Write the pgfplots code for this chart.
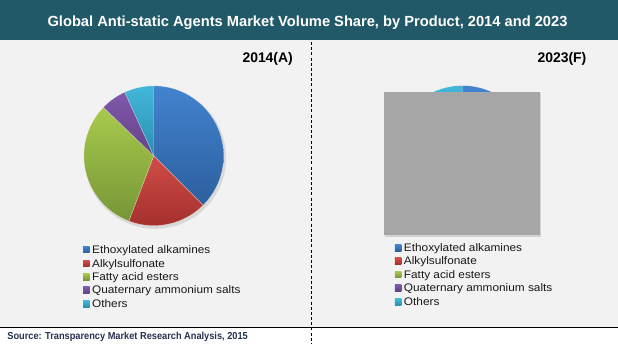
\documentclass[border=0pt]{standalone}
\usepackage{pgfplots}
\pgfplotsset{compat=1.18}
\usepackage{fontspec}
\setmainfont{Liberation Sans}
\usepackage{graphicx}
\definecolor{titlebar}{HTML}{215968}
\definecolor{bggray}{HTML}{F2F2F2}
\definecolor{coverg}{HTML}{A6A6A6}
\definecolor{srccol}{HTML}{263250}
\definecolor{blueT}{HTML}{4383CF}
\definecolor{blueB}{HTML}{2C5F9E}
\definecolor{redT}{HTML}{D04D47}
\definecolor{redB}{HTML}{A22E2B}
\definecolor{greenT}{HTML}{A8CA4D}
\definecolor{greenB}{HTML}{779536}
\definecolor{purpT}{HTML}{8159AB}
\definecolor{purpB}{HTML}{634286}
\definecolor{cyanT}{HTML}{42B7DA}
\definecolor{cyanB}{HTML}{2A8FAE}

% pie data: share (%) / top colour / bottom colour
\def\pieA{37.5/blueT/blueB, 18.3/redT/redB, 31.4/greenT/greenB, 6.0/purpT/purpB, 6.8/cyanT/cyanB}
\def\pieB{37.0/blueT/blueB, 18.5/redT/redB, 31.0/greenT/greenB, 6.0/purpT/purpB, 7.5/cyanT/cyanB}

\newcommand\drawpie[3]{% cx, cy, data macro
  \gdef\pieang{90}%
  \foreach \v/\ct/\cb in #3 {%
    \pgfmathsetmacro\angend{\pieang-3.6*\v}%
    \edef\temp{\noexpand\shade[top color=\ct, bottom color=\cb, draw=white, draw opacity=0.45, line width=0.4bp]
      (axis cs:#1,#2) -- ++(\pieang:70bp) arc[start angle=\pieang, end angle=\angend, radius=70bp] -- cycle;}%
    \temp
    \xdef\pieang{\angend}%
  }%
}
\newcommand\legentry[5]{% x marker centre, baseline y, topcol, botcol, text
  \shade[top color=#3, bottom color=#4] (axis cs:#1-3.2,#2+0.3) rectangle (axis cs:#1+3.2,#2+6.8);
  \node[anchor=base west, inner sep=0pt, text=black!90] at (axis cs:#1+5.6,#2) {\scalebox{1.08}[1]{\fontsize{11}{13}\selectfont #5}};
}

\begin{document}
\begin{tikzpicture}
\begin{axis}[width=618bp, height=350bp, scale only axis, hide axis,
  xmin=0, xmax=618, ymin=0, ymax=350, clip=false]
% backgrounds
\fill[white] (axis cs:0,0) rectangle (axis cs:618,350);
\fill[bggray] (axis cs:0,22.3) rectangle (axis cs:618,310);
\fill[titlebar] (axis cs:0,310) rectangle (axis cs:618,350);
\draw[black, line width=1bp] (axis cs:0,22.3) -- (axis cs:618,22.3);
\draw[black, line width=1bp, dash pattern=on 3bp off 2.2bp] (axis cs:311.7,308) -- (axis cs:311.7,5);

% title
\node[anchor=base, inner sep=0pt, text=white, font=\fontsize{14.75}{16}\selectfont\bfseries] at (axis cs:307.5,323.3)
  {Global Anti-static Agents Market Volume Share, by Product, 2014 and 2023};
\node[anchor=base east, inner sep=0pt, font=\fontsize{14}{16}\selectfont\bfseries] at (axis cs:293,287.7) {2014(A)};
\node[anchor=base east, inner sep=0pt, font=\fontsize{14}{16}\selectfont\bfseries] at (axis cs:587,287.7) {2023(F)};

% pie shadows
\fill[black, opacity=0.10] (axis cs:155.0,191.8) circle[radius=71bp];
\fill[black, opacity=0.10] (axis cs:464.2,192.1) circle[radius=71bp];
% pies
\drawpie{153.5}{194.0}{\pieA}
\drawpie{462.7}{194.3}{\pieB}

% grey cover on the right pie
\fill[black, opacity=0.12] (axis cs:385.5,112.8) rectangle (axis cs:541.5,256.8);
\fill[coverg] (axis cs:384,114.3) rectangle (axis cs:540,258.3);

% legends
\legentry{86}{96.5}{blueT}{blueB}{Ethoxylated alkamines}
\legentry{86}{82.5}{redT}{redB}{Alkylsulfonate}
\legentry{86}{69.2}{greenT}{greenB}{Fatty acid esters}
\legentry{86}{55.8}{purpT}{purpB}{Quaternary ammonium salts}
\legentry{86}{42.2}{cyanT}{cyanB}{Others}

\legentry{398.3}{98.2}{blueT}{blueB}{Ethoxylated alkamines}
\legentry{398.3}{84.8}{redT}{redB}{Alkylsulfonate}
\legentry{398.3}{71.5}{greenT}{greenB}{Fatty acid esters}
\legentry{398.3}{58.2}{purpT}{purpB}{Quaternary ammonium salts}
\legentry{398.3}{43.8}{cyanT}{cyanB}{Others}

% source
\node[anchor=base west, inner sep=0pt, text=srccol] at (axis cs:6.7,10)
  {\scalebox{0.91}[1]{\fontsize{10.2}{12}\selectfont\bfseries Source: Transparency Market Research Analysis, 2015}};
\end{axis}
\end{tikzpicture}
\end{document}
